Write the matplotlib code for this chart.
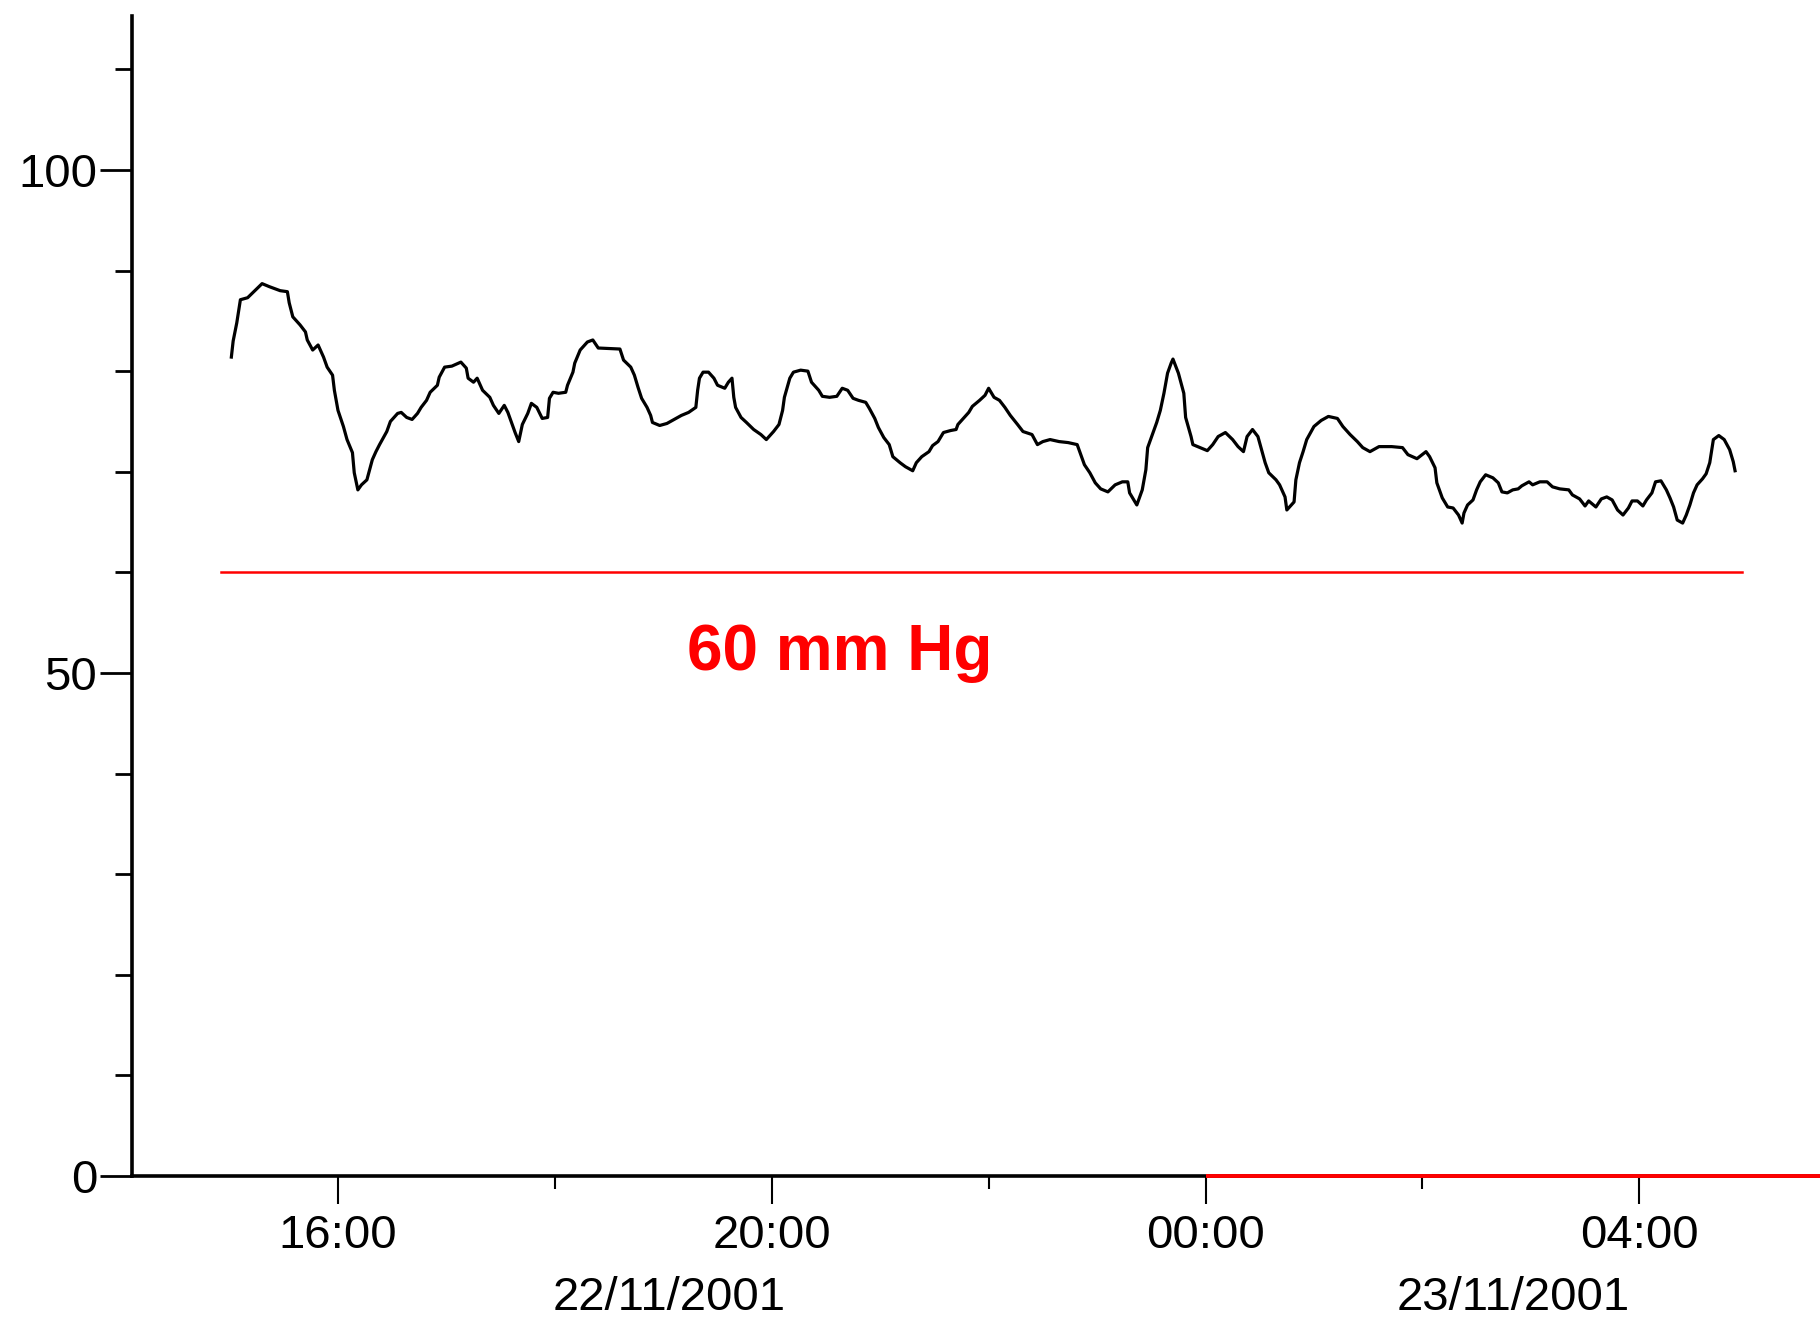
"""
Pressao arterial media - registro continuo 22/11/2001 - 23/11/2001.
"""
import matplotlib
matplotlib.use('Agg')
import matplotlib.pyplot as plt
import matplotlib.dates as mdates
from matplotlib.ticker import MultipleLocator
import pandas as pd

# =========================================================================
# DADOS
# =========================================================================
inicio = pd.Timestamp('2001-11-22 16:00')

# minutos a partir de 16:00 de 22/11/2001
minutos = [
    -59, -58, -56, -54, -50, -46, -42, -38, -32, -28, -27, -25, -21, -18, -17,
    -14, -11, -8, -6, -3, -2, 0, 3, 5, 8, 9, 11, 13, 16, 19, 21, 23, 27, 29,
    33, 35, 38, 41, 44, 46, 49, 51, 55, 56, 59, 63, 68, 71, 72, 75, 77, 80,
    84, 86, 89, 92, 94, 96, 98, 100, 102, 105, 107, 110, 113, 116, 117, 119,
    122, 126, 127, 130, 131, 134, 138, 141, 144, 156, 158, 162, 164, 166, 168,
    171, 173, 174, 178, 182, 185, 190, 194, 198, 199, 200, 202, 205, 208, 210,
    214, 216, 218, 219, 220, 223, 226, 230, 234, 237, 241, 244, 246, 247, 250,
    252, 256, 260, 262, 266, 268, 272, 276, 279, 282, 285, 288, 292, 294, 297,
    299, 302, 305, 307, 311, 314, 318, 320, 323, 327, 329, 332, 335, 339, 342,
    343, 346, 349, 351, 355, 358, 360, 363, 366, 369, 372, 376, 379, 384, 387,
    390, 394, 399, 404, 409, 411, 413, 416, 419, 422, 426, 430, 434, 437, 438,
    442, 445, 447, 448, 451, 453, 455, 457, 459, 461, 462, 465, 468, 469, 472,
    473, 477, 481, 484, 487, 491, 495, 498, 501, 503, 506, 509, 511, 513, 515,
    519, 521, 524, 525, 529, 530, 532, 534, 536, 540, 544, 548, 553, 556, 560,
    564, 567, 571, 576, 583, 589, 592, 597, 602, 604, 607, 608, 611, 614, 617,
    620, 622, 623, 625, 628, 630, 632, 635, 639, 642, 644, 647, 650, 653, 655,
    659, 661, 665, 669, 672, 676, 681, 683, 687, 690, 692, 696, 699, 702, 705,
    708, 711, 714, 716, 719, 722, 724, 727, 729, 732, 735, 737, 739, 741, 744,
    746, 748, 750, 752, 755, 757, 759, 761, 764, 767, 770, 772, 773,
]

pressao = [
    81.4, 83.0, 84.8, 87.1, 87.3, 88.0, 88.7, 88.4, 88.0, 87.9, 86.8, 85.4, 84.6, 83.9, 83.1,
    82.1, 82.6, 81.4, 80.4, 79.6, 78.1, 76.1, 74.5, 73.2, 71.9, 69.9, 68.2, 68.7, 69.2, 71.2, 72.0, 72.7, 74.0, 75.0,
    75.8, 75.9, 75.4, 75.2, 75.8, 76.4, 77.1, 77.9, 78.6, 79.4, 80.4, 80.5, 80.9, 80.3, 79.3, 78.9, 79.3, 78.1,
    77.4, 76.6, 75.8, 76.6, 75.9, 74.9, 73.9, 73.0, 74.7, 75.8, 76.8, 76.4, 75.3, 75.4, 77.3, 77.9,
    77.8, 77.9, 78.6, 79.9, 80.8, 82.1, 82.9, 83.1, 82.3, 82.2, 81.1, 80.4, 79.6, 78.4, 77.3,
    76.4, 75.6, 74.9, 74.6, 74.8, 75.1, 75.6, 75.9, 76.4, 78.1, 79.3, 79.9, 79.9, 79.3, 78.6,
    78.3, 78.9, 79.3, 77.4, 76.4, 75.4, 74.9, 74.2, 73.7, 73.2, 74.0, 74.7, 76.1, 77.4, 79.3,
    79.9, 80.1, 80.0, 78.9, 78.1, 77.5, 77.4, 77.5, 78.3, 78.1, 77.3, 77.1, 76.9, 76.3, 75.3,
    74.4, 73.4, 72.7, 71.5, 70.9, 70.5, 70.1, 70.9, 71.5, 72.0, 72.6, 73.0, 73.9, 74.1, 74.2,
    74.7, 75.3, 75.9, 76.5, 77.1, 77.6, 78.3, 77.4, 77.1, 76.4, 75.6, 74.7, 74.0, 73.7, 72.7,
    73.0, 73.2, 73.0, 72.9, 72.7, 71.7, 70.7, 69.9, 68.9, 68.3, 68.0, 68.7, 69.0, 69.0, 67.9,
    66.7, 68.2, 70.2, 72.4, 73.9, 74.9, 76.1, 77.8, 79.8, 80.8, 81.2, 79.8, 77.8, 75.4, 73.5,
    72.7, 72.4, 72.1, 72.7, 73.5, 73.9, 73.2, 72.5, 72.0, 73.5, 74.2, 73.5, 72.2, 70.9, 69.9,
    69.2, 68.7, 67.5, 66.2, 67.0, 69.2, 70.9, 72.0, 73.2, 74.5, 75.1, 75.5, 75.3, 74.5, 73.7,
    73.0, 72.4, 72.0, 72.5, 72.5, 72.4, 71.7, 71.3, 72.0, 71.5, 70.4, 68.9, 67.4, 66.5, 66.4,
    65.7, 64.9, 65.9, 66.7, 67.2, 68.2, 69.0, 69.7, 69.4, 68.9, 68.0, 67.9, 68.2, 68.3, 68.6,
    69.0, 68.7, 69.0, 69.0, 68.5, 68.3, 68.2, 67.7, 67.3, 66.6, 67.1, 66.5, 67.3, 67.5, 67.2,
    66.2, 65.7, 66.4, 67.1, 67.1, 66.6, 67.2, 67.9, 69.0, 69.1, 68.2, 67.4, 66.5, 65.2, 64.9,
    65.7, 66.7, 67.9, 68.7, 69.3, 69.8, 70.9, 73.2, 73.6, 73.2, 72.2, 71.0, 70.1,
]

limiar = 60
limiar_inicio = pd.Timestamp('2001-11-22 14:55')
limiar_fim = pd.Timestamp('2001-11-23 04:57')

x_min = pd.Timestamp('2001-11-22 14:06')
x_max = pd.Timestamp('2001-11-23 05:40')
meia_noite = pd.Timestamp('2001-11-23 00:00')

tempo = inicio + pd.to_timedelta(minutos, unit='min')

# =========================================================================
# FIGURA
# =========================================================================
fonte = 'Liberation Sans'
tamanho = 34
fig = plt.figure(figsize=(18.2, 13.35), dpi=100, facecolor='white')
ax = fig.add_axes([0.0725, 0.1191, 0.9275, 0.8689])

ax.plot(tempo, pressao, color='black', linewidth=2.3)
ax.plot([limiar_inicio, limiar_fim], [limiar, limiar], color='#ff0000', linewidth=1.8)

ax.text(inicio + pd.Timedelta(minutes=193), 50.3, f'{limiar} mm Hg',
        ha='left', va='baseline', fontsize=46, fontweight='bold',
        color='#ff0000', family=fonte)

ax.set_xlim(x_min, x_max)
ax.set_ylim(0, 115.3)

# eixos
for lado in ['top', 'right']:
    ax.spines[lado].set_visible(False)
ax.spines['left'].set_linewidth(2.6)
ax.spines['bottom'].set_linewidth(2.6)
ax.plot([meia_noite, x_max], [0, 0], color='#ff0000', linewidth=2.8,
        clip_on=False, zorder=5, solid_capstyle='butt')

ax.yaxis.set_major_locator(MultipleLocator(50))
ax.yaxis.set_minor_locator(MultipleLocator(10))
ax.xaxis.set_major_locator(mdates.HourLocator(byhour=range(0, 24, 4)))
ax.xaxis.set_minor_locator(mdates.HourLocator(byhour=range(0, 24, 2)))
ax.xaxis.set_major_formatter(mdates.DateFormatter('%H:%M'))

ax.tick_params(axis='y', which='major', length=23, width=2.0, pad=2, labelsize=tamanho)
ax.tick_params(axis='y', which='minor', length=12, width=2.0)
ax.tick_params(axis='x', which='major', length=20, width=1.5, pad=7, labelsize=tamanho)
ax.tick_params(axis='x', which='minor', length=9.5, width=1.5)
for rotulo in ax.get_xticklabels() + ax.get_yticklabels():
    rotulo.set_family(fonte)

# datas centralizadas na parte visivel de cada dia
trans = ax.get_xaxis_transform()
centro_dia1 = x_min + (meia_noite - x_min) / 2
centro_dia2 = meia_noite + (x_max - meia_noite) / 2
for centro, rotulo in [(centro_dia1, '22/11/2001'), (centro_dia2, '23/11/2001')]:
    ax.text(centro, -0.086, rotulo, transform=trans, ha='center', va='top',
            fontsize=tamanho, family=fonte, color='black')

plt.savefig('out.png', dpi=100, facecolor='white')
plt.close()
